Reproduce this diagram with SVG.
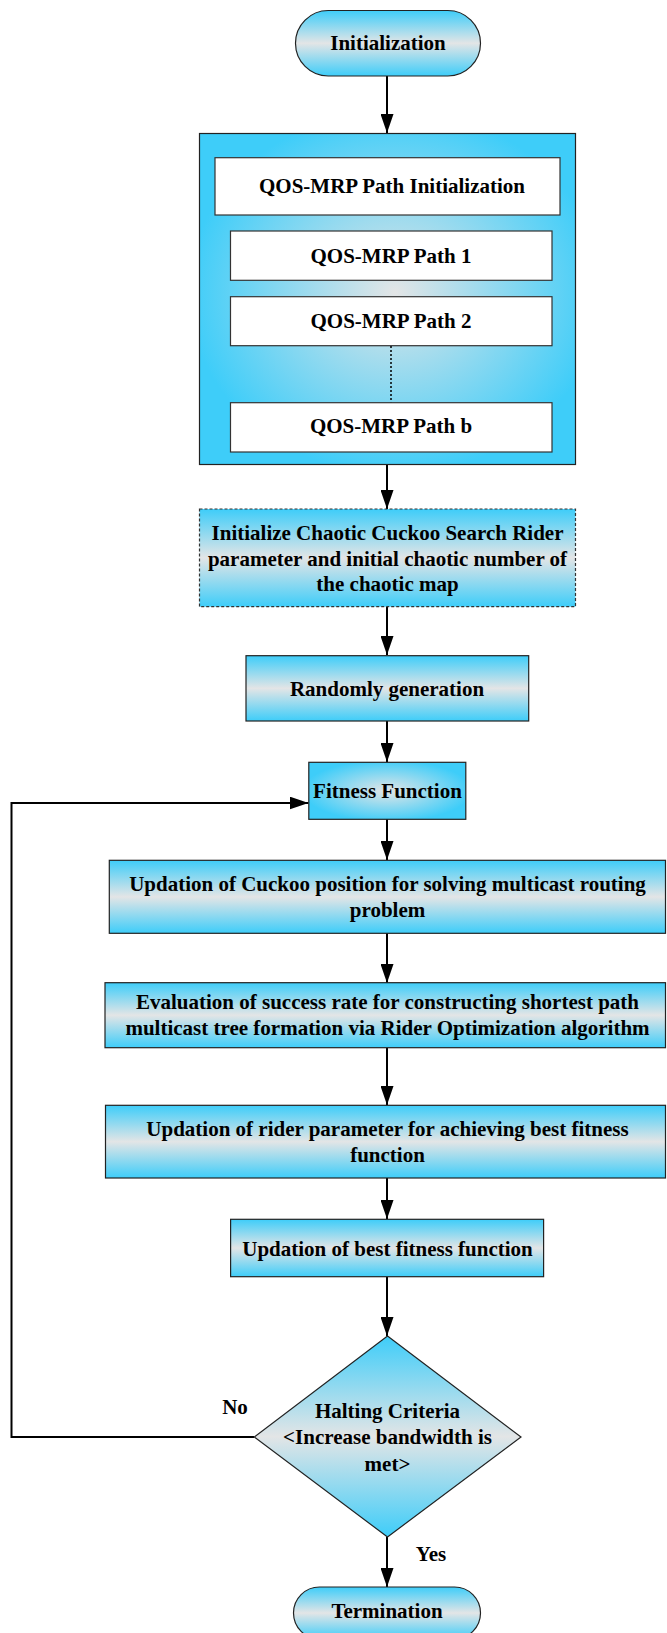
<svg xmlns="http://www.w3.org/2000/svg" width="667" height="1633" viewBox="0 0 667 1633">
  <defs>
    <linearGradient id="gv" x1="0" y1="0" x2="0" y2="1">
      <stop offset="0" stop-color="#3ecdf9"/>
      <stop offset="0.5" stop-color="#e3e5e6"/>
      <stop offset="1" stop-color="#3ecdf9"/>
    </linearGradient>
    <radialGradient id="gr" cx="0.52" cy="0.48" r="0.55">
      <stop offset="0" stop-color="#e3e5e6"/>
      <stop offset="1" stop-color="#3ecdf9"/>
    </radialGradient>
    <radialGradient id="gr2" cx="0.5" cy="0.5" r="0.6">
      <stop offset="0" stop-color="#e3e5e6"/>
      <stop offset="0.9" stop-color="#3ecdf9"/>
    </radialGradient>
    <marker id="ah" markerUnits="userSpaceOnUse" markerWidth="20" markerHeight="13" refX="19" refY="6.5" orient="auto">
      <path d="M0,0 L19,6.5 L0,13 z" fill="#000"/>
    </marker>
    <style>
      .box { fill: url(#gv); stroke: #222; stroke-width: 1.2; }
      .wbox { fill: #fff; stroke: #333; stroke-width: 1.2; }
      .t { font-family: "Liberation Serif", "Times New Roman", serif; font-weight: bold; font-size: 21px; fill: #000; text-anchor: middle; }
      .c { fill: none; stroke: #000; stroke-width: 2; }
    </style>
  </defs>

  <g id="connectors">
    <line class="c" x1="387" y1="76" x2="387" y2="133" marker-end="url(#ah)"/>
    <line class="c" x1="387" y1="464" x2="387" y2="509" marker-end="url(#ah)"/>
    <line class="c" x1="387" y1="607" x2="387" y2="655" marker-end="url(#ah)"/>
    <line class="c" x1="387" y1="721" x2="387" y2="762" marker-end="url(#ah)"/>
    <line class="c" x1="387" y1="819" x2="387" y2="860" marker-end="url(#ah)"/>
    <line class="c" x1="387" y1="933" x2="387" y2="983" marker-end="url(#ah)"/>
    <line class="c" x1="387" y1="1048" x2="387" y2="1105" marker-end="url(#ah)"/>
    <line class="c" x1="387" y1="1178" x2="387" y2="1219" marker-end="url(#ah)"/>
    <line class="c" x1="387" y1="1277" x2="387" y2="1336" marker-end="url(#ah)"/>
    <line class="c" x1="387" y1="1537" x2="387" y2="1587" marker-end="url(#ah)"/>
    <polyline class="c" points="254,1437 11.5,1437 11.5,803 308.5,803" marker-end="url(#ah)"/>
  </g>

  <g id="initialization">
    <rect class="box" x="295.5" y="10.5" width="185" height="65.5" rx="32.75"/>
    <text class="t" x="388" y="50">Initialization</text>
  </g>

  <g id="path-group">
    <rect x="199.5" y="133.5" width="376" height="331" fill="url(#gr)" stroke="#222" stroke-width="1.2"/>
    <g id="path-init">
      <rect class="wbox" x="215" y="157.7" width="345" height="57.3"/>
      <text class="t" x="392" y="193">QOS-MRP Path Initialization</text>
    </g>
    <g id="path-1">
      <rect class="wbox" x="230.5" y="231" width="321.5" height="49.3"/>
      <text class="t" x="391" y="263">QOS-MRP Path 1</text>
    </g>
    <g id="path-2">
      <rect class="wbox" x="230.5" y="296.7" width="321.5" height="49"/>
      <text class="t" x="391" y="328">QOS-MRP Path 2</text>
    </g>
    <line x1="391" y1="346" x2="391" y2="402.7" stroke="#000" stroke-width="1.5" stroke-dasharray="2,2"/>
    <g id="path-b">
      <rect class="wbox" x="230.5" y="402.7" width="321.5" height="49.3"/>
      <text class="t" x="391" y="433">QOS-MRP Path b</text>
    </g>
  </g>

  <g id="init-ccsr">
    <rect x="199.5" y="509" width="376" height="97.7" fill="url(#gv)" stroke="#333" stroke-width="1.2" stroke-dasharray="3,2"/>
    <text class="t" x="387.5" y="540">Initialize Chaotic Cuckoo Search Rider</text>
    <text class="t" x="387.5" y="565.5">parameter and initial chaotic number of</text>
    <text class="t" x="387.5" y="591">the chaotic map</text>
  </g>

  <g id="random">
    <rect class="box" x="246" y="655.7" width="282.7" height="65.3"/>
    <text class="t" x="387" y="695.5">Randomly generation</text>
  </g>

  <g id="fitness">
    <rect x="308.8" y="762.3" width="157" height="57" fill="url(#gr2)" stroke="#222" stroke-width="1.2"/>
    <text class="t" x="387.5" y="798">Fitness Function</text>
  </g>

  <g id="cuckoo">
    <rect class="box" x="109.3" y="860.3" width="556.2" height="73"/>
    <text class="t" x="387.5" y="891">Updation of Cuckoo position for solving multicast routing</text>
    <text class="t" x="387.5" y="917">problem</text>
  </g>

  <g id="evaluation">
    <rect class="box" x="105" y="982.7" width="560.5" height="65"/>
    <text class="t" x="387.5" y="1008.5">Evaluation of success rate for constructing shortest path</text>
    <text class="t" x="387.5" y="1035">multicast tree formation via Rider Optimization algorithm</text>
  </g>

  <g id="rider">
    <rect class="box" x="105.5" y="1105.3" width="560" height="72.7"/>
    <text class="t" x="387.5" y="1136">Updation of rider parameter for achieving best fitness</text>
    <text class="t" x="387.5" y="1162">function</text>
  </g>

  <g id="best">
    <rect class="box" x="230.6" y="1219.3" width="313" height="57.4"/>
    <text class="t" x="387.5" y="1255.5">Updation of best fitness function</text>
  </g>

  <g id="halting">
    <polygon points="387.5,1336 521,1437 387.5,1537 254.3,1437" fill="url(#gv)" stroke="#222" stroke-width="1.2"/>
    <text class="t" x="387.5" y="1418">Halting Criteria</text>
    <text class="t" x="387.5" y="1444">&lt;Increase bandwidth is</text>
    <text class="t" x="387.5" y="1471">met&gt;</text>
  </g>

  <g id="labels">
    <text class="t" x="235" y="1414">No</text>
    <text class="t" x="431" y="1561">Yes</text>
  </g>

  <g id="termination">
    <rect class="box" x="293.5" y="1587" width="187" height="52" rx="26"/>
    <text class="t" x="387" y="1618">Termination</text>
  </g>
</svg>
